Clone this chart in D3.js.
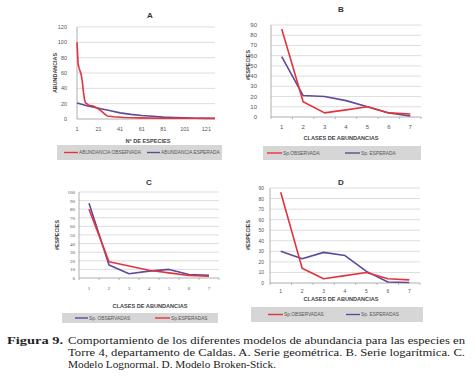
<!DOCTYPE html>
<html><head><meta charset="utf-8">
<script src="https://cdn.jsdelivr.net/npm/d3@7"></script>
<style>body{margin:0;background:#fff}svg{display:block}</style>
</head><body>
<script>
// ---- Data ----
// Panel A: rank (Nº de especies) vs abundance
const rankObsA = [1,2,3,4,5,6,7,8,9,12,16,20,24,27,29,35,45,60,80,100,129];
const abObsA   = [100,72,66,62,57,48,35,25,21,18,17,14,10,6,4,3,2,1.5,1,1,1];
const rankExpA = [1,11,21,31,41,51,61,71,81,91,101,111,121,129];
const abExpA   = [21,17,14,11,8,6,4.5,3.5,2.5,2,1.5,1,0.8,0.7];
const xTicksA  = [1,21,41,61,81,101,121];

// Panels B, C, D: abundance classes 1..7
const clases = [1,2,3,4,5,6,7];
const obsB = [86,15,4,7,10,4,3];
const espB = [59,21,20,16,10,4,1];
const obsC = [87,15,5,8,10,4,3];
const espC = [80,19,14,9,6,3,2];
const obsD = [86,14,4,7,10,4,3];
const espD = [30,23,29,26,11,1,0.5];

const RED = "#e3343d", PURPLE = "#5e4a98";

const svg = d3.select("body").append("svg").attr("width",476).attr("height",385);

function panel(o){
  const g = svg.append("g");
  const y = d3.scaleLinear().domain([0,o.yMax]).range([o.bottom,o.top]);
  let x;
  if(o.cat){
    x = d3.scalePoint().domain(o.cats).range([o.left,o.right]).padding(0.5);
  } else {
    x = d3.scaleLinear().domain(o.xDomain).range([o.left,o.right]);
  }
  // gridlines
  const yt = d3.range(0,o.yMax+0.001,o.yStep);
  g.append("g").selectAll("line").data(yt).join("line")
    .attr("x1",o.left).attr("x2",o.right)
    .attr("y1",d=>y(d)).attr("y2",d=>y(d))
    .attr("stroke", d=> d===0 ? "#9a9a9a" : "#d4d4d4").attr("stroke-width",0.8);
  // y axis line
  g.append("line").attr("x1",o.left).attr("x2",o.left).attr("y1",o.top).attr("y2",o.bottom)
    .attr("stroke","#9a9a9a").attr("stroke-width",0.8);
  // y labels
  g.append("g").selectAll("text").data(yt).join("text")
    .attr("x",o.ylabX).attr("y",d=>y(d)+2).attr("text-anchor","end")
    .attr("font-family",o.tickFont||"Liberation Sans, Arial, sans-serif").attr("font-size",o.tickSize||5.5).attr("fill","#555")
    .text(d=>d);
  // x labels
  const xt = o.cat ? o.cats : o.xTicks;
  g.append("g").selectAll("text").data(xt).join("text")
    .attr("x",d=>x(d)).attr("y",o.xlabY).attr("text-anchor","middle")
    .attr("font-family",o.tickFont||"Liberation Sans, Arial, sans-serif").attr("font-size",o.tickSize||5.5).attr("fill","#555")
    .text(d=>d);
  if(o.cat){
    const step = x.step();
    const bounds = d3.range(0,o.cats.length+1).map(i=>o.left+i*step);
    g.append("g").selectAll("line").data(bounds).join("line")
      .attr("x1",d=>d).attr("x2",d=>d).attr("y1",o.bottom).attr("y2",o.bottom+2)
      .attr("stroke","#9a9a9a").attr("stroke-width",0.7);
  }
  // lines
  const line = d3.line().x(d=>x(d[0])).y(d=>y(d[1]));
  o.series.forEach(s=>{
    g.append("path").datum(d3.zip(s.x,s.y)).attr("d",line)
      .attr("fill","none").attr("stroke",s.color).attr("stroke-width",1.6)
      .attr("stroke-linejoin","round");
  });
  // title
  g.append("text").attr("x",o.titleX).attr("y",o.titleY).attr("text-anchor","middle")
    .attr("font-family","Liberation Sans, Arial, sans-serif").attr("font-weight","bold")
    .attr("font-size",8).attr("fill","#333").text(o.title);
  // axis titles
  g.append("text").attr("x",o.xTitleX).attr("y",o.xTitleY).attr("text-anchor","middle")
    .attr("font-family","Liberation Sans, Arial, sans-serif").attr("font-weight","bold")
    .attr("font-size",5.6).attr("fill","#444").text(o.xTitle);
  g.append("text").attr("transform",`translate(${o.yTitleX},${o.yTitleY}) rotate(-90)`)
    .attr("text-anchor","middle")
    .attr("font-family","Liberation Sans, Arial, sans-serif").attr("font-weight","bold")
    .attr("font-size",5.4).attr("fill","#444").text(o.yTitle);
  // legend
  const L = o.legend;
  g.append("rect").attr("x",L.x).attr("y",L.y).attr("width",L.w).attr("height",L.h)
    .attr("fill","#d6d6d6");
  L.items.forEach(it=>{
    const cy = L.y + L.h/2;
    g.append("line").attr("x1",it.x).attr("x2",it.x+it.len).attr("y1",cy).attr("y2",cy)
      .attr("stroke",it.color).attr("stroke-width",1.4);
    g.append("text").attr("x",it.x+it.len+1).attr("y",cy+1.8)
      .attr("font-family","Liberation Sans, Arial, sans-serif").attr("font-size",4.8)
      .attr("fill","#555").text(it.label);
  });
}

panel({
  title:"A", titleX:150, titleY:18,
  left:77, right:215, top:27, bottom:119, yMax:120, yStep:20,
  xDomain:[1,129], xTicks:xTicksA, ylabX:67, xlabY:131,
  xTitle:"Nº DE ESPECIES", xTitleX:148, xTitleY:143,
  yTitle:"ABUNDANCIAS", yTitleX:57, yTitleY:73,
  series:[{x:rankExpA,y:abExpA,color:PURPLE},{x:rankObsA,y:abObsA,color:RED}],
  legend:{x:57,y:145,w:165,h:15,items:[
    {x:64,len:14,color:RED,label:"ABUNDANCIA OBSERVADA"},
    {x:147,len:13,color:PURPLE,label:"ABUNDANCIA ESPERADA"}]}
});

panel({
  title:"B", titleX:341, titleY:12,
  left:271, right:421, top:25, bottom:117, yMax:90, yStep:10,
  cat:true, cats:clases, ylabX:257, xlabY:129, tickSize:6,
  xTitle:"CLASES DE ABUNDANCIAS", xTitleX:341, xTitleY:140,
  yTitle:"#ESPECIES", yTitleX:250, yTitleY:65,
  series:[{x:clases,y:espB,color:PURPLE},{x:clases,y:obsB,color:RED}],
  legend:{x:263,y:146,w:158,h:14,items:[
    {x:267,len:15,color:RED,label:"Sp.OBSERVADA"},
    {x:345,len:15,color:PURPLE,label:"Sp. ESPERADA"}]}
});

panel({
  title:"C", titleX:149, titleY:185,
  left:79, right:219, top:192, bottom:278, yMax:100, yStep:10,
  cat:true, cats:clases, ylabX:75, xlabY:290, tickSize:5,
  tickFont:"Liberation Serif, serif",
  xTitle:"CLASES DE ABUNDANCIAS", xTitleX:150, xTitleY:308,
  yTitle:"#ESPECIES", yTitleX:59, yTitleY:235,
  series:[{x:clases,y:obsC,color:PURPLE},{x:clases,y:espC,color:RED}],
  legend:{x:62,y:313,w:156,h:10,items:[
    {x:75,len:13,color:PURPLE,label:"Sp. OBSERVADAS"},
    {x:155,len:15,color:RED,label:"Sp.ESPERADAS"}]}
});

panel({
  title:"D", titleX:341, titleY:185,
  left:270, right:420, top:188, bottom:283, yMax:90, yStep:10,
  cat:true, cats:clases, ylabX:264, xlabY:293, tickSize:5,
  xTitle:"CLASES DE ABUNDANCIAS", xTitleX:341, xTitleY:301,
  yTitle:"#ESPECIES", yTitleX:250, yTitleY:235,
  series:[{x:clases,y:espD,color:PURPLE},{x:clases,y:obsD,color:RED}],
  legend:{x:251,y:307,w:172,h:15,items:[
    {x:268,len:15,color:RED,label:"Sp.OBSERVADAS"},
    {x:346,len:14,color:PURPLE,label:"Sp. ESPERADAS"}]}
});

// caption
const cap = svg.append("g").attr("font-family","Liberation Serif, 'Times New Roman', serif")
  .attr("font-size",10.6).attr("fill","#222");
cap.append("text").attr("x",7).attr("y",344).attr("font-weight","bold").attr("font-size",11)
  .attr("textLength",56).attr("lengthAdjust","spacingAndGlyphs").text("Figura 9.");
const capLines = [
  "Comportamiento de los diferentes modelos de abundancia para las especies en",
  "Torre 4, departamento de Caldas. A. Serie geométrica. B. Serie logarítmica. C.",
  "Modelo Lognormal. D. Modelo Broken-Stick."];
const capLen = [397, 397, 208];
capLines.forEach((t,i)=>{
  const el = cap.append("text").attr("x",68).attr("y",344+i*12).text(t);
  if(capLen[i]) el.attr("textLength",capLen[i]).attr("lengthAdjust","spacingAndGlyphs");
});
</script>
</body></html>
